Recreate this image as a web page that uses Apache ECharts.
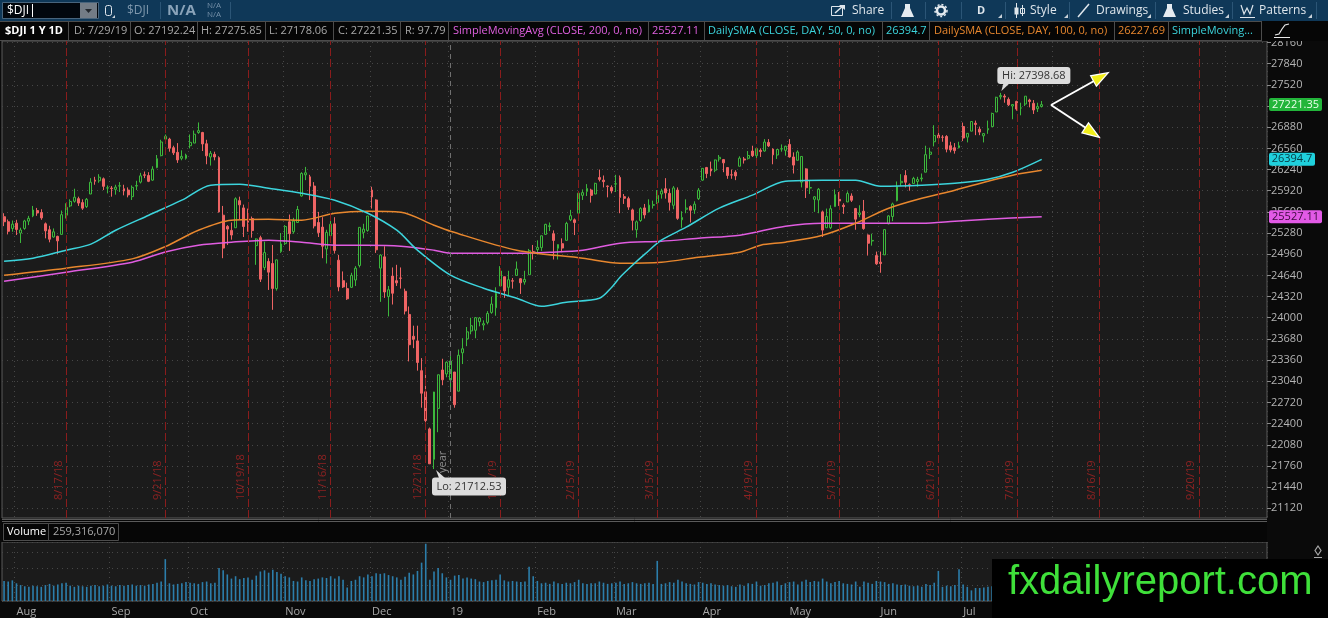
<!DOCTYPE html>
<html>
<head>
<meta charset="utf-8">
<title>$DJI 1 Y 1D</title>
<script src="https://cdn.jsdelivr.net/npm/echarts@6/dist/echarts.min.js"></script>
<style>
html, body { margin: 0; padding: 0; background: #0a0a0a; }
#chart { width: 1328px; height: 618px; }
</style>
</head>
<body>
<div id="chart"></div>
<script>
var FONT = '"Open Sans", "Noto Sans", sans-serif';

// trading calendar (weekdays minus NYSE holidays), runs past the last bar for the empty right side
var holidays = ['2018-09-03', '2018-11-22', '2018-12-05', '2018-12-25', '2019-01-01', '2019-01-21',
	'2019-02-18', '2019-04-19', '2019-05-27', '2019-07-04', '2019-09-02'];
var dates = [];
var d = new Date(Date.UTC(2018, 6, 27));
while (dates.length < 306) {
	var s = d.toISOString().slice(0, 10);
	if (d.getUTCDay() !== 0 && d.getUTCDay() !== 6 && holidays.indexOf(s) < 0) dates.push(s);
	d.setUTCDate(d.getUTCDate() + 1);
}

// [open, close, low, high]
var ohlc = [
	// jul 27-31 2018
	[25527, 25451, 25385, 25580], [25451, 25307, 25260, 25485], [25350, 25415, 25300, 25470],
	// aug
	[25430, 25333, 25250, 25480], [25280, 25326, 25130, 25360], [25350, 25463, 25330, 25480],
	[25460, 25502, 25400, 25540], [25540, 25628, 25520, 25690], [25620, 25583, 25540, 25660],
	[25590, 25509, 25480, 25640], [25420, 25313, 25200, 25440], [25330, 25187, 25140, 25390],
	[25220, 25299, 25210, 25350], [25230, 25162, 24965, 25240], [25260, 25558, 25260, 25620],
	[25550, 25669, 25500, 25730], [25690, 25758, 25670, 25790], [25760, 25822, 25740, 25950],
	[25800, 25733, 25690, 25830], [25740, 25656, 25630, 25790], [25680, 25790, 25660, 25810],
	[25870, 26049, 25870, 26110], [26080, 26064, 26010, 26130], [26070, 26124, 26040, 26170],
	[26100, 25986, 25930, 26120], [25960, 25964, 25880, 26000],
	// sep
	[25960, 25952, 25830, 25990], [25940, 25974, 25860, 26010], [25990, 25995, 25900, 26050],
	[25950, 25916, 25850, 26010], [25930, 25857, 25820, 25970], [25830, 25971, 25780, 26000],
	[25990, 25998, 25930, 26070], [26050, 26145, 26030, 26190], [26160, 26154, 26110, 26210],
	[26150, 26062, 26050, 26200], [26080, 26246, 26070, 26290], [26270, 26405, 26260, 26460],
	[26450, 26657, 26440, 26690], [26700, 26743, 26660, 26770], [26700, 26562, 26510, 26720],
	[26570, 26492, 26460, 26600], [26500, 26385, 26340, 26640], [26410, 26439, 26380, 26530],
	[26410, 26458, 26390, 26480],
	// oct
	[26600, 26651, 26560, 26770], [26640, 26774, 26640, 26830], [26800, 26828, 26780, 26952],
	[26800, 26627, 26520, 26810], [26630, 26447, 26320, 26690], [26430, 26486, 26300, 26520],
	[26470, 26430, 26380, 26510], [26420, 25599, 25590, 26440], [25550, 25053, 24900, 25690],
	[25380, 25340, 25100, 25400], [25320, 25250, 25180, 25440], [25360, 25798, 25360, 25820],
	[25770, 25706, 25490, 25830], [25660, 25379, 25220, 25710], [25470, 25444, 25300, 25650],
	[25500, 25317, 25210, 25530], [25090, 25191, 24800, 25200], [25210, 24583, 24540, 25240],
	[24760, 24985, 24720, 25150], [24850, 24689, 24420, 24900], [24820, 24443, 24120, 25100],
	[24440, 24875, 24410, 24880], [25000, 25116, 24980, 25280],
	// nov
	[25120, 25380, 25100, 25400], [25450, 25271, 25010, 25560], [25300, 25462, 25270, 25510],
	[25440, 25636, 25440, 25690], [25840, 26181, 25830, 26200], [26160, 26191, 26080, 26280],
	[26130, 25989, 25780, 26160], [25990, 25388, 25350, 26050], [25440, 25287, 25220, 25600],
	[25370, 25081, 24900, 25520], [25040, 25290, 24820, 25330], [25240, 25413, 25150, 25480],
	[25420, 25018, 24970, 25520], [24870, 24466, 24400, 24950], [24560, 24465, 24450, 24700],
	[24440, 24286, 24270, 24530], [24460, 24640, 24450, 24680], [24570, 24749, 24480, 24780],
	[24790, 25366, 24760, 25370], [25290, 25339, 25200, 25420], [25320, 25538, 25300, 25540],
	// dec
	[25930, 25826, 25650, 25980], [25780, 25027, 24980, 25790], [24750, 24947, 24240, 24960],
	[24920, 24389, 24300, 25080], [24320, 24423, 24020, 24480], [24630, 24370, 24200, 24760],
	[24560, 24527, 24480, 24800], [24600, 24597, 24440, 24760], [24400, 24101, 24050, 24440],
	[24050, 23592, 23340, 24170], [23720, 23675, 23540, 23880], [23650, 23324, 23200, 23880],
	[23200, 22859, 22640, 23390], [22880, 22445, 22400, 23250], [22320, 21792, 21790, 22340],
	[21860, 22878, 21712.53, 22880], [22630, 23138, 22270, 23140], [23210, 23062, 22980, 23380],
	[23150, 23327, 23100, 23340],
	// jan 2019
	[23060, 23346, 22880, 23420], [23180, 22686, 22640, 23180], [22890, 23433, 22890, 23520],
	[23470, 23531, 23300, 23690], [23680, 23787, 23570, 23860], [23800, 23879, 23750, 24000],
	[23810, 24001, 23690, 24010], [23940, 23996, 23870, 24010], [23890, 23910, 23810, 23960],
	[23930, 24065, 23900, 24100], [24080, 24207, 24060, 24320], [24150, 24370, 24030, 24460],
	[24480, 24706, 24480, 24780], [24620, 24404, 24300, 24620], [24460, 24575, 24340, 24710],
	[24560, 24553, 24440, 24600], [24640, 24737, 24640, 24850], [24590, 24528, 24360, 24600],
	[24540, 24579, 24500, 24710], [24650, 25014, 24650, 25040], [25000, 24999, 24880, 25100],
	// feb
	[25030, 25064, 24970, 25170], [25060, 25239, 25010, 25240], [25260, 25411, 25260, 25420],
	[25380, 25390, 25310, 25440], [25270, 25169, 24880, 25320], [25050, 25106, 24880, 25110],
	[25120, 25053, 24990, 25200], [25170, 25425, 25170, 25450], [25480, 25543, 25460, 25630],
	[25480, 25439, 25250, 25500], [25580, 25883, 25580, 25890], [25850, 25891, 25780, 25940],
	[25910, 25954, 25840, 26020], [25930, 25850, 25740, 25950], [25870, 26031, 25870, 26040],
	[26120, 26091, 26060, 26240], [26080, 26057, 25970, 26150], [25990, 25985, 25820, 26000],
	[25970, 25916, 25880, 26000],
	// mar
	[26020, 26026, 25900, 26160], [26120, 25819, 25580, 26150], [25830, 25806, 25720, 25870],
	[25800, 25673, 25630, 25830], [25630, 25473, 25320, 25650], [25330, 25450, 25210, 25470],
	[25470, 25650, 25450, 25670], [25660, 25554, 25500, 25720], [25600, 25702, 25590, 25790],
	[25700, 25709, 25650, 25770], [25740, 25849, 25720, 25930], [25870, 25914, 25800, 25950],
	[25950, 25887, 25800, 26110], [25880, 25745, 25620, 25950], [25700, 25962, 25640, 25990],
	[25930, 25502, 25480, 25970], [25480, 25516, 25360, 25610], [25640, 25657, 25580, 25790],
	[25680, 25625, 25440, 25700], [25630, 25717, 25570, 25760], [25800, 25929, 25780, 25960],
	// apr
	[26080, 26258, 26070, 26260], [26270, 26179, 26110, 26280], [26250, 26218, 26140, 26360],
	[26230, 26385, 26200, 26390], [26400, 26425, 26360, 26460], [26390, 26341, 26200, 26400],
	[26270, 26150, 26100, 26270], [26160, 26157, 26100, 26240], [26200, 26143, 26080, 26230],
	[26290, 26412, 26290, 26440], [26400, 26384, 26330, 26430], [26410, 26452, 26390, 26520],
	[26520, 26449, 26430, 26600], [26450, 26559, 26390, 26570], [26530, 26511, 26430, 26560],
	[26520, 26656, 26510, 26700], [26650, 26597, 26580, 26700], [26550, 26462, 26320, 26560],
	[26460, 26543, 26400, 26550], [26550, 26554, 26510, 26620], [26530, 26592, 26450, 26600],
	// may
	[26620, 26430, 26420, 26700], [26430, 26307, 26180, 26500], [26380, 26505, 26380, 26530],
	[26050, 26438, 25970, 26440], [26250, 25965, 25810, 26260], [25960, 25968, 25870, 26070],
	[25790, 25828, 25600, 25840], [25780, 25942, 25580, 25960], [25600, 25325, 25220, 25620],
	[25360, 25532, 25360, 25650], [25360, 25648, 25340, 25700], [25680, 25862, 25680, 25940],
	[25790, 25764, 25690, 25900], [25700, 25679, 25570, 25730], [25750, 25877, 25750, 25910],
	[25840, 25776, 25750, 25880], [25650, 25490, 25330, 25660], [25560, 25585, 25520, 25700],
	[25610, 25347, 25330, 25780], [25250, 25126, 24940, 25260], [25160, 25169, 25090, 25270],
	[24940, 24815, 24800, 25000],
	// jun
	[24840, 24819, 24680, 25000], [24950, 25332, 24950, 25340], [25420, 25539, 25410, 25550],
	[25530, 25720, 25460, 25740], [25770, 25984, 25760, 26060], [26040, 26062, 25990, 26170],
	[26150, 26048, 25970, 26230], [26010, 26004, 25920, 26030], [26030, 26106, 26030, 26130],
	[26060, 26089, 25980, 26130], [26100, 26112, 26060, 26180], [26200, 26465, 26200, 26600],
	[26470, 26504, 26400, 26570], [26660, 26753, 26590, 26910], [26760, 26719, 26710, 26850],
	[26730, 26727, 26660, 26760], [26740, 26548, 26500, 26760], [26600, 26536, 26500, 26660],
	[26570, 26526, 26480, 26640], [26570, 26600, 26560, 26660],
	// jul
	[26890, 26717, 26670, 26950], [26730, 26787, 26650, 26790], [26820, 26966, 26820, 26970],
	[26940, 26922, 26760, 26980], [26850, 26806, 26760, 26890], [26750, 26783, 26650, 26790],
	[26840, 26860, 26780, 26980], [26890, 27088, 26880, 27100], [27110, 27332, 27110, 27340],
	[27340, 27359, 27300, 27398.68], [27350, 27335, 27250, 27380], [27300, 27219, 27200, 27330],
	[27200, 27222, 27000, 27230], [27270, 27154, 27130, 27280], [27170, 27171, 27060, 27250],
	[27230, 27349, 27200, 27350], [27290, 27269, 27180, 27310], [27240, 27140, 27080, 27290],
	[27160, 27192, 27110, 27250], [27192.24, 27221.35, 27178.06, 27275.85]
];

// volume, millions of shares
var volumes = [
	340, 330, 350,
	300, 270, 250, 240, 260, 250, 240, 270, 290, 260, 280, 300, 310, 260, 240, 260, 250, 240, 260, 270, 250, 260, 280,
	260, 250, 270, 260, 270, 280, 260, 270, 260, 280, 290, 310, 330, 710, 300, 280, 290, 300, 320,
	310, 300, 290, 320, 330, 300, 310, 560, 520, 450, 380, 420, 370, 390, 400, 360, 430, 500, 520, 480, 530, 490, 460,
	420, 400, 340, 330, 400, 350, 340, 370, 380, 400, 390, 420, 380, 420, 360, 230, 340, 360, 420, 400, 450,
	420, 470, 460, 470, 440, 420, 400, 360, 410, 480, 450, 510, 650, 970, 360, 500, 560, 470, 400,
	360, 430, 440, 380, 400, 380, 370, 330, 320, 340, 350, 360, 450, 350, 330, 340, 330, 320, 330, 580, 420,
	340, 300, 310, 290, 330, 300, 290, 310, 300, 320, 360, 300, 290, 300, 300, 330, 310, 290, 300,
	310, 330, 290, 300, 320, 300, 290, 300, 310, 290, 680, 290, 300, 320, 310, 360, 330, 300, 290, 280, 320,
	310, 290, 300, 280, 270, 260, 270, 250, 240, 280, 260, 300, 290, 330, 260, 270, 300, 310, 330, 270, 300,
	320, 330, 280, 330, 360, 320, 340, 330, 380, 330, 300, 320, 340, 300, 290, 280, 330, 240, 330, 310, 290, 340,
	330, 320, 290, 300, 280, 270, 280, 260, 250, 260, 240, 290, 270, 310, 510, 240, 260, 250, 270, 540,
	280, 240, 180, 220, 220, 230, 240, 250, 260, 230, 240, 250, 260, 270, 240, 250, 260, 270, 250, 259.32
];

// moving averages: [bar index, value]
var sma50 = [[0, 24855], [7, 24900], [15, 25021], [21, 25112], [27, 25323], [35, 25550], [43, 25777],
	[50, 26004], [57, 26019], [64, 25958], [72, 25882], [80, 25777], [88, 25580], [95, 25323], [100, 25021],
	[108, 24643], [116, 24446], [124, 24295], [130, 24174], [136, 24235], [144, 24295], [147, 24462],
	[149, 24613], [152, 24794], [155, 24961], [159, 25172], [165, 25369], [173, 25656], [181, 25853],
	[189, 26064], [198, 26079], [206, 26079], [212, 25989], [222, 26004], [230, 26034], [238, 26094],
	[244, 26200], [251, 26394.7]];
var sma100 = [[0, 24643], [15, 24749], [31, 24890], [39, 25075], [47, 25323], [55, 25475], [64, 25490],
	[72, 25475], [80, 25580], [88, 25611], [96, 25596], [104, 25399], [108, 25308], [124, 25021],
	[140, 24900], [149, 24824], [159, 24839], [168, 24915], [178, 24991], [183, 25097], [189, 25142],
	[198, 25248], [206, 25429], [214, 25656], [222, 25807], [230, 25928], [238, 26064], [244, 26155],
	[251, 26227.69]];
var sma200 = [[0, 24552], [15, 24688], [31, 24840], [39, 24995], [47, 25097], [55, 25142], [64, 25172],
	[72, 25142], [80, 25097], [88, 25097], [96, 25082], [104, 25021], [108, 24976], [124, 24976],
	[132, 24991], [140, 25021], [149, 25127], [159, 25157], [168, 25202], [178, 25248], [189, 25384],
	[198, 25429], [206, 25429], [214, 25429], [222, 25429], [230, 25459], [238, 25490], [251, 25527.11]];

var priceTicks = [21120, 21440, 21760, 22080, 22400, 22720, 23040, 23360, 23680, 24000, 24320, 24640,
	24960, 25280, 25600, 25920, 26240, 26560, 26880, 27200, 27520, 27840, 28160];

// option expiration markers (4/19/19 was a holiday, line sits on the 18th)
var expiryDates = ['2018-08-17', '2018-09-21', '2018-10-19', '2018-11-16', '2018-12-21', '2019-01-18',
	'2019-02-15', '2019-03-15', '2019-04-18', '2019-05-17', '2019-06-21', '2019-07-19', '2019-08-16', '2019-09-20'];
var expiryLabels = ['8/17/18', '9/21/18', '10/19/18', '11/16/18', '12/21/18', '1/18/19', '2/15/19',
	'3/15/19', '4/19/19', '5/17/19', '6/21/19', '7/19/19', '8/16/19', '9/20/19'];

var monthNames = ['Jan', 'Feb', 'Mar', 'Apr', 'May', 'Jun', 'Jul', 'Aug', 'Sep', 'Oct', 'Nov', 'Dec'];

function monthStart(i) {
	return i > 0 && dates[i].slice(0, 7) !== dates[i - 1].slice(0, 7);
}
function toLine(arr) {
	return arr.map(function (p) { return [dates[p[0]], p[1]]; });
}

var dotted = {color: '#474747', type: [1, 4], width: 1};

var marks = expiryDates.map(function (dt, i) {
	return {xAxis: dt, label: {formatter: expiryLabels[i]}};
});
marks.push({
	xAxis: '2019-01-02',
	lineStyle: {color: '#707070', type: [5, 4], width: 1},
	label: {formatter: 'year', color: '#8c8c8c', distance: [45, 2]}
});

var option = {
	backgroundColor: '#0a0a0a',
	animation: false,
	grid: [
		{left: 2, right: 61, top: 41, height: 477, show: true, backgroundColor: '#1b1b1b', borderColor: '#5a5a5a', borderWidth: 1},
		{left: 2, right: 61, top: 542, height: 59, show: true, backgroundColor: '#1b1b1b', borderColor: '#5a5a5a', borderWidth: 1}
	],
	xAxis: [{
		type: 'category', gridIndex: 0, data: dates, boundaryGap: true,
		axisLine: {show: false}, axisTick: {show: false}, axisLabel: {show: false},
		splitLine: {show: true, interval: function (i) { return monthStart(i); }, lineStyle: dotted}
	}, {
		type: 'category', gridIndex: 1, data: dates, boundaryGap: true,
		axisLine: {show: false}, axisTick: {show: false},
		axisLabel: {
			show: true, interval: function (i) { return monthStart(i); },
			formatter: function (v) {
				var m = parseInt(v.slice(5, 7), 10) - 1;
				return m === 0 ? v.slice(2, 4) : monthNames[m];
			},
			align: 'left', color: '#a8a8a8', fontSize: 11, fontFamily: FONT, margin: 5
		},
		splitLine: {show: true, interval: function (i) { return monthStart(i); }, lineStyle: dotted}
	}],
	yAxis: [{
		type: 'value', gridIndex: 0, position: 'right', min: 20973, max: 28183,
		axisLine: {show: false},
		axisTick: {show: true, length: 4, customValues: priceTicks, lineStyle: {color: '#8a8a8a'}},
		axisLabel: {customValues: priceTicks, formatter: function (v) { return String(v); },
			color: '#b4b4b4', fontSize: 11, fontFamily: FONT, margin: 4},
		splitLine: {show: true, lineStyle: dotted}
	}, {
		type: 'value', gridIndex: 1, position: 'right', min: 0, max: 1000, interval: 275,
		axisLine: {show: false}, axisTick: {show: false}, axisLabel: {show: false},
		splitLine: {show: true, lineStyle: dotted}
	}],
	series: [{
		name: '$DJI', type: 'candlestick', xAxisIndex: 0, yAxisIndex: 0,
		data: ohlc, barWidth: 2.4,
		itemStyle: {color: '#1b1b1b', color0: '#ee6464', borderColor: '#3cb83c', borderColor0: '#ee6464', borderWidth: 1},
		markLine: {
			silent: true, symbol: ['none', 'none'], animation: false,
			lineStyle: {color: '#8a1c1c', type: [8, 3], width: 1},
			label: {show: true, position: 'insideStartTop', distance: [18, 2], color: '#8e2222', fontSize: 11, fontFamily: FONT},
			data: marks
		}
	}, {
		name: 'SMA200', type: 'line', data: toLine(sma200), smooth: 0.3, symbol: 'none',
		lineStyle: {color: '#e05ce0', width: 1.5}
	}, {
		name: 'SMA100', type: 'line', data: toLine(sma100), smooth: 0.3, symbol: 'none',
		lineStyle: {color: '#e8872e', width: 1.5}
	}, {
		name: 'SMA50', type: 'line', data: toLine(sma50), smooth: 0.3, symbol: 'none',
		lineStyle: {color: '#3cd4dc', width: 1.5}
	}, {
		name: 'Volume', type: 'bar', xAxisIndex: 1, yAxisIndex: 1,
		data: volumes, barWidth: 1.6, itemStyle: {color: '#2c7eab'}
	}]
};

var chart = echarts.init(document.getElementById('chart'));
chart.setOption(option);

// ---- overlay helpers
function rect(x, y, w, h, fill, stroke, r) {
	return {type: 'rect', z: 100, shape: {x: x, y: y, width: w, height: h, r: r || 0},
		style: {fill: fill || 'none', stroke: stroke || null, lineWidth: 1}};
}
function txt(x, y, s, color, size, weight, align, family) {
	return {type: 'text', z: 101, x: x, y: y,
		style: {text: s, fill: color, fontSize: size || 11, fontWeight: weight || 'normal',
			fontFamily: family || FONT, align: align || 'left', verticalAlign: 'middle'}};
}
function line(x1, y1, x2, y2, color, w) {
	return {type: 'line', z: 101, shape: {x1: x1, y1: y1, x2: x2, y2: y2}, style: {stroke: color, lineWidth: w || 1}};
}
function poly(pts, fill, stroke) {
	return {type: 'polygon', z: 101, shape: {points: pts}, style: {fill: fill || 'none', stroke: stroke || null, lineWidth: 1.2}};
}
function pline(pts, color, w) {
	return {type: 'polyline', z: 101, shape: {points: pts}, style: {stroke: color, lineWidth: w || 1.2, fill: 'none'}};
}

var g = [];
var tb = '#dfe6ec', sepc = '#2b5576';
// toolbar
g.push(rect(0, 0, 1328, 21, '#0f3858'));
g.push(rect(2.5, 2.5, 96, 16, '#02070d', '#48647c'));
g.push(txt(7, 11, '$DJI', '#ffffff', 12));
g.push(line(32.5, 4, 32.5, 17, '#ffffff'));
g.push(rect(80, 3, 17, 15, '#737c86'));
g.push(poly([[85, 9], [92, 9], [88.5, 13]], '#23282e'));
g.push(rect(105.5, 5.5, 6, 10, null, '#e0e6ec', 2));
g.push(poly([[112, 18], [115, 18], [115, 15]], '#c8d0d8'));
g.push(txt(127, 11, '$DJI', '#7f98ad', 12));
g.push(line(160.5, 2, 160.5, 19, sepc));
g.push(txt(167, 11, 'N/A', '#8aa3b9', 15, 'bold'));
g.push(txt(207, 6, 'N/A', '#7590a8', 8));
g.push(txt(207, 15, 'N/A', '#7590a8', 8));
g.push(line(230.5, 2, 230.5, 19, sepc));
[891, 925, 961, 1005, 1069, 1155, 1232, 1316].forEach(function (x) { g.push(line(x + 0.5, 2, x + 0.5, 19, sepc)); });
[998, 1064, 1147, 1225, 1308].forEach(function (x) { g.push(poly([[x, 18], [x + 4, 18], [x + 4, 14]], '#c8d0d8')); });
g.push(rect(831.5, 6.5, 11, 9, null, tb));
g.push(pline([[835, 13], [843, 6]], tb, 1.6));
g.push(poly([[839, 5], [845, 5], [845, 10]], tb));
g.push(txt(852, 10.5, 'Share', tb, 12));
g.push(poly([[905, 4], [910, 4], [910, 8], [914, 17], [901, 17], [905, 8]], '#e5ebf0'));
g.push({type: 'circle', z: 101, shape: {cx: 941, cy: 10.5, r: 4}, style: {fill: 'none', stroke: '#e5ebf0', lineWidth: 2.5}});
g.push({type: 'circle', z: 101, shape: {cx: 941, cy: 10.5, r: 6}, style: {fill: 'none', stroke: '#e5ebf0', lineWidth: 1.5, lineDash: [2, 2]}});
g.push(txt(977, 10.5, 'D', tb, 11, 'bold'));
g.push(line(1016.5, 3, 1016.5, 18, tb));
g.push(rect(1014.5, 7.5, 4, 7, tb));
g.push(line(1022.5, 5, 1022.5, 16, tb));
g.push(rect(1020.5, 8.5, 4, 5, null, tb));
g.push(txt(1030, 10.5, 'Style', tb, 12));
g.push(line(1078, 17, 1089, 4, tb, 1.5));
g.push(txt(1096, 10.5, 'Drawings', tb, 12));
g.push(poly([[1167, 4], [1172, 4], [1172, 8], [1176, 17], [1163, 17], [1167, 8]], '#e5ebf0'));
g.push(txt(1183, 10.5, 'Studies', tb, 12));
g.push(pline([[1241, 5], [1244, 14], [1247, 8], [1250, 14], [1253, 5]], tb));
g.push(line(1240, 17.5, 1255, 17.5, tb));
g.push(txt(1259, 10.5, 'Patterns', tb, 12));

// study legend bar
g.push(rect(0, 21, 1328, 20, '#060606'));
g.push(line(0, 21.5, 1261, 21.5, '#4c4c4c'));
g.push(line(0, 40.5, 1261, 40.5, '#4c4c4c'));
[68, 130, 197, 265, 333, 400, 448, 648, 704, 882, 929, 1114, 1168, 1261].forEach(function (x) {
	g.push(line(x + 0.5, 21, x + 0.5, 41, '#4c4c4c'));
});
var lg = '#a8a8a8', mag = '#e060e0', cya = '#3cd4dc', org = '#e8872e';
g.push(txt(5, 31, '$DJI 1 Y 1D', '#ffffff', 11, 'bold'));
g.push(txt(74, 31, 'D: 7/29/19', lg));
g.push(txt(134, 31, 'O: 27192.24', lg));
g.push(txt(201, 31, 'H: 27275.85', lg));
g.push(txt(269, 31, 'L: 27178.06', lg));
g.push(txt(338, 31, 'C: 27221.35', lg));
g.push(txt(405, 31, 'R: 97.79', lg));
g.push(txt(453, 31, 'SimpleMovingAvg (CLOSE, 200, 0, no)', mag));
g.push(txt(652, 31, '25527.11', mag));
g.push(txt(708, 31, 'DailySMA (CLOSE, DAY, 50, 0, no)', cya));
g.push(txt(886, 31, '26394.7', cya));
g.push(txt(934, 31, 'DailySMA (CLOSE, DAY, 100, 0, no)', org));
g.push(txt(1118, 31, '26227.69', org));
g.push(txt(1172, 31, 'SimpleMoving...', cya));
g.push(pline([[1275, 35], [1279, 34], [1282, 29], [1285, 25], [1289, 24]], '#e8e8e8'));
g.push(line(1274, 37.5, 1290, 37.5, '#e8e8e8'));

// volume header
g.push(rect(2, 519, 1265, 23, '#060606'));
g.push(line(2, 519.5, 1267, 519.5, '#5a5a5a'));
g.push(line(2, 521.5, 1267, 521.5, '#5a5a5a'));
g.push(rect(3.5, 523.5, 45, 17, null, '#4c4c4c'));
g.push(rect(48.5, 523.5, 70, 17, null, '#4c4c4c'));
g.push(txt(7, 532, 'Volume', '#ffffff', 11));
g.push(txt(53, 532, '259,316,070', lg, 11));
g.push(poly([[1318, 546], [1321, 550.5], [1318, 555], [1315, 550.5]], null, '#a8a8a8'));
g.push(line(1314, 557.5, 1322, 557.5, '#a8a8a8'));

// arrows
g.push(line(1051, 105, 1094, 81, '#ffffff', 2));
g.push(line(1051, 105, 1086, 128, '#ffffff', 2));
g.push(poly([[1108.3, 72.7], [1096.4, 86.2], [1090.6, 75.8]], '#f2ee1a', '#ffffff'));
g.push(poly([[1099.3, 137.3], [1081.9, 132.9], [1088.5, 122.9]], '#f2ee1a', '#ffffff'));

// hi / lo bubbles placed through the chart's own scales
var hi = chart.convertToPixel({gridIndex: 0}, ['2019-07-15', 27398.68]);
var lo = chart.convertToPixel({gridIndex: 0}, ['2018-12-26', 21712.53]);
g.push(poly([[hi[0] + 3, hi[1] - 9.5], [hi[0] + 9, hi[1] - 9.5], [hi[0] + 1, hi[1] - 2]], '#dcdcdc'));
g.push(rect(hi[0] - 3, hi[1] - 26, 73, 17, '#dcdcdc', null, 3));
g.push(txt(hi[0] + 33.5, hi[1] - 17.5, 'Hi: 27398.68', '#333333', 11, 'normal', 'center'));
g.push(poly([[lo[0] + 5, lo[1] + 9], [lo[0] + 11, lo[1] + 9], [lo[0] + 2, lo[1] + 1]], '#dcdcdc'));
g.push(rect(lo[0] - 2, lo[1] + 8.5, 74, 18, '#dcdcdc', null, 3));
g.push(txt(lo[0] + 35, lo[1] + 17.5, 'Lo: 21712.53', '#333333', 11, 'normal', 'center'));

// last-value tags on the price axis
[[27221.35, '27221.35', '#22b53a', '#eaffea', 53], [26394.7, '26394.7', '#1fd0dc', '#063a44', 46],
	[25527.11, '25527.11', '#e25ae6', '#3a0a3c', 53]].forEach(function (t) {
	var y = chart.convertToPixel({yAxisIndex: 0}, t[0]);
	g.push(rect(1269, y - 6.5, t[4], 13, t[2], null, 2));
	g.push(txt(1269 + t[4] / 2, y, t[1], t[3], 11, 'normal', 'center'));
});

// watermark
g.push(rect(992, 559, 336, 59, '#000000'));
g.push(txt(1008, 583, 'fxdailyreport.com', '#3fe03a', 40, 'normal', 'left', '"Liberation Sans", Arial, sans-serif'));

chart.setOption({graphic: {elements: g}});
</script>
</body>
</html>
